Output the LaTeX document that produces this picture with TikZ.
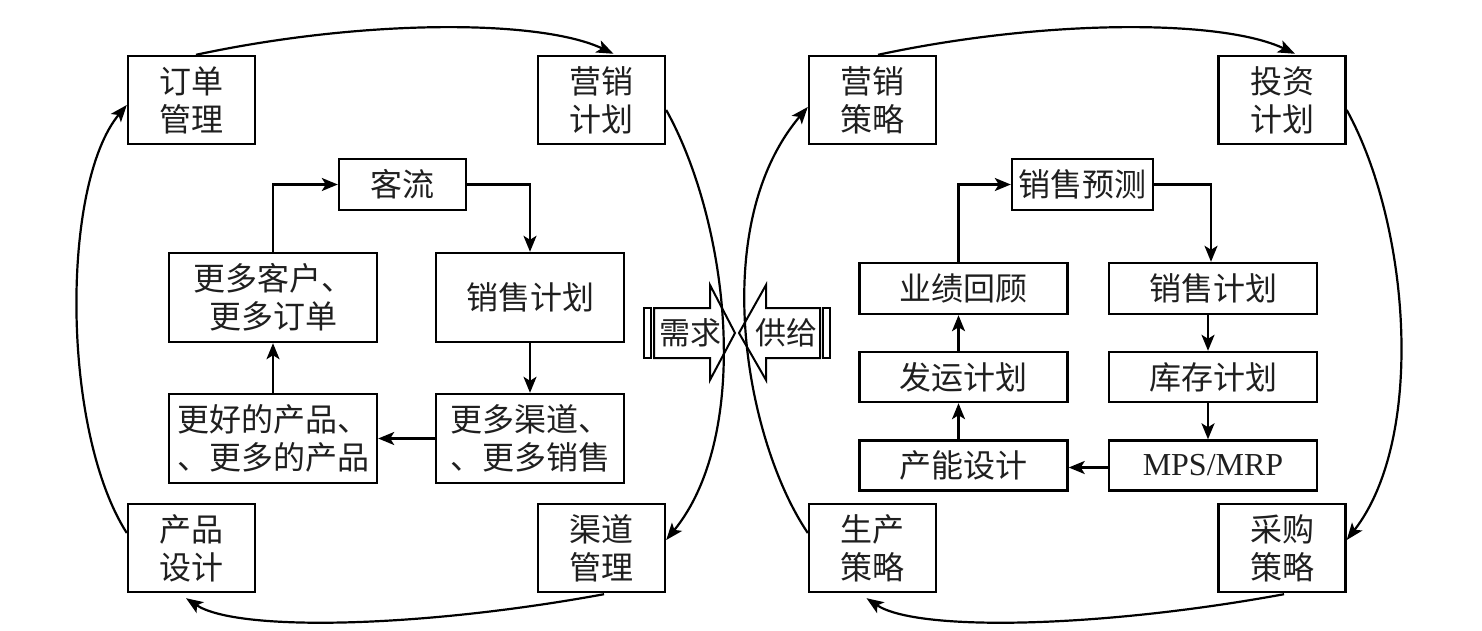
\documentclass[tikz,border=0pt]{standalone}
\usepackage{fontspec}
\setmainfont{Noto Sans CJK SC}
\newfontfamily\latinserif{Liberation Serif}
\usetikzlibrary{arrows.meta,calc}
\begin{document}
\begin{tikzpicture}[x=1pt,y=-1pt,
  box/.style={draw=black, line width=2.4pt, inner sep=0pt, align=center, text=black!88,
    font=\fontsize{32}{38}\selectfont},
  outer/.style={box, minimum width=127pt, minimum height=88pt},
  wide/.style={box, minimum width=208pt, minimum height=89pt},
  mid/.style={box, minimum width=188pt, minimum height=89pt},
  small/.style={box, minimum width=127pt, minimum height=51pt},
  rbox/.style={box, minimum width=208pt, minimum height=50pt},
  flow/.style={line width=2.4pt, -{Stealth[length=16pt,width=13pt,inset=4pt]}},
  arc/.style={line width=2.2pt, -{Stealth[length=17pt,width=13pt,inset=4pt]}},
  bigarrow/.style={line width=2pt, line join=miter},
  lbl/.style={inner sep=0pt, text=black!88, font=\fontsize{31}{37}\selectfont},
]
\useasboundingbox (0,0) rectangle (1482,631);

% ---- left group ----
\node[outer] (dd) at (191.5,100) {订单\\管理};
\node[outer] (yx) at (601.5,100) {营销\\计划};
\node[outer] (cp) at (191.5,548) {产品\\设计};
\node[outer] (qd) at (601.5,548) {渠道\\管理};
\node[small] (kl) at (402.5,184.5) {客流};
\node[wide] (gk) at (273,297.5) {更多客户、\\更多订单};
\node[mid] (xs) at (530,297.5) {销售计划};
\node[wide] (gh) at (273,438.5) {更好的产品、\\、更多的产品};
\node[mid] (gq) at (530,438.5) {更多渠道、\\、更多销售};

\draw[flow] (gk.north) |- (kl.west);
\draw[flow] (kl.east) -| (xs.north);
\draw[flow] (xs.south) -- (gq.north);
\draw[flow] (gq.west) -- (gh.east);
\draw[flow] (gh.north) -- (gk.south);

% ---- right group ----
\node[outer] (ycl) at (872.5,100) {营销\\策略};
\node[outer] (tz) at (1282,100) {投资\\计划};
\node[outer] (sc) at (872.5,548) {生产\\策略};
\node[outer] (cg) at (1282,548) {采购\\策略};
\node[small, minimum width=141pt] (ycy) at (1082.5,184.5) {销售预测};
\node[rbox, minimum height=51pt] (yj) at (963.5,288.5) {业绩回顾};
\node[rbox, minimum height=51pt] (xsr) at (1213,288.5) {销售计划};
\node[rbox] (fy) at (963.5,377) {发运计划};
\node[rbox] (kc) at (1213,377) {库存计划};
\node[rbox] (cn) at (963.5,465.5) {产能设计};
\node[rbox, font=\latinserif\fontsize{32}{37}\selectfont] (mps) at (1213,465.5) {MPS/MRP};

\draw[flow] ([xshift=-5pt]yj.north) |- (ycy.west);
\draw[flow] (ycy.east) -| ([xshift=-2pt]xsr.north);
\draw[flow] ([xshift=-5pt]xsr.south) -- ([xshift=-5pt]kc.north);
\draw[flow] ([xshift=-5pt]kc.south) -- ([xshift=-5pt]mps.north);
\draw[flow] ([yshift=-2pt]mps.west) -- ([yshift=-2pt]cn.east);
\draw[flow] ([xshift=-5pt]cn.north) -- ([xshift=-5pt]fy.south);
\draw[flow] ([xshift=-5pt]fy.north) -- ([xshift=-5pt]yj.south);

% ---- demand / supply arrows ----
\draw[bigarrow] (644,308) rectangle (651,358);
\draw[bigarrow] (654,308) -- (710,308) -- (710,285) -- (735,333) -- (710,380) -- (710,358) -- (654,358) -- cycle;
\node[lbl] (xq) at (690,333) {需求};
\draw[bigarrow] (830,308) rectangle (823,358);
\draw[bigarrow] (820,308) -- (766,308) -- (766,285) -- (739,333) -- (766,380) -- (766,358) -- (820,358) -- cycle;
\node[lbl] (gj) at (786,333) {供给};

% ---- outer cycles ----
\draw[arc] ($(dd.north)+(4.5,0)$) .. controls (363,19) and (540,19) .. ($(yx.north)+(12,-1)$);
\draw[arc] ($(yx.east)+(0,10)$) .. controls (730,225) and (752,435) .. ($(qd.east)+(0,-8)$);
\draw[arc] ($(qd.south)+(2.5,1)$) .. controls (420,628) and (237,632) .. ($(cp.south)+(-5.5,5)$);
\draw[arc] ($(cp.west)+(0,-15)$) .. controls (61,430) and (61,184) .. ($(dd.west)+(0,5)$);

\draw[arc] ($(ycl.north)+(5.5,0)$) .. controls (1045,19) and (1222,19) .. ($(tz.north)+(13,-1)$);
\draw[arc] ($(tz.east)+(0,10)$) .. controls (1410,225) and (1426,438) .. ($(cg.east)+(0,-8)$);
\draw[arc] ($(cg.south)+(2,1)$) .. controls (1100,628) and (917,632) .. ($(sc.south)+(-6,5)$);
\draw[arc] ($(sc.west)+(0,-15)$) .. controls (745,440) and (707,226) .. ($(ycl.west)+(0,7)$);
\end{tikzpicture}
\end{document}
